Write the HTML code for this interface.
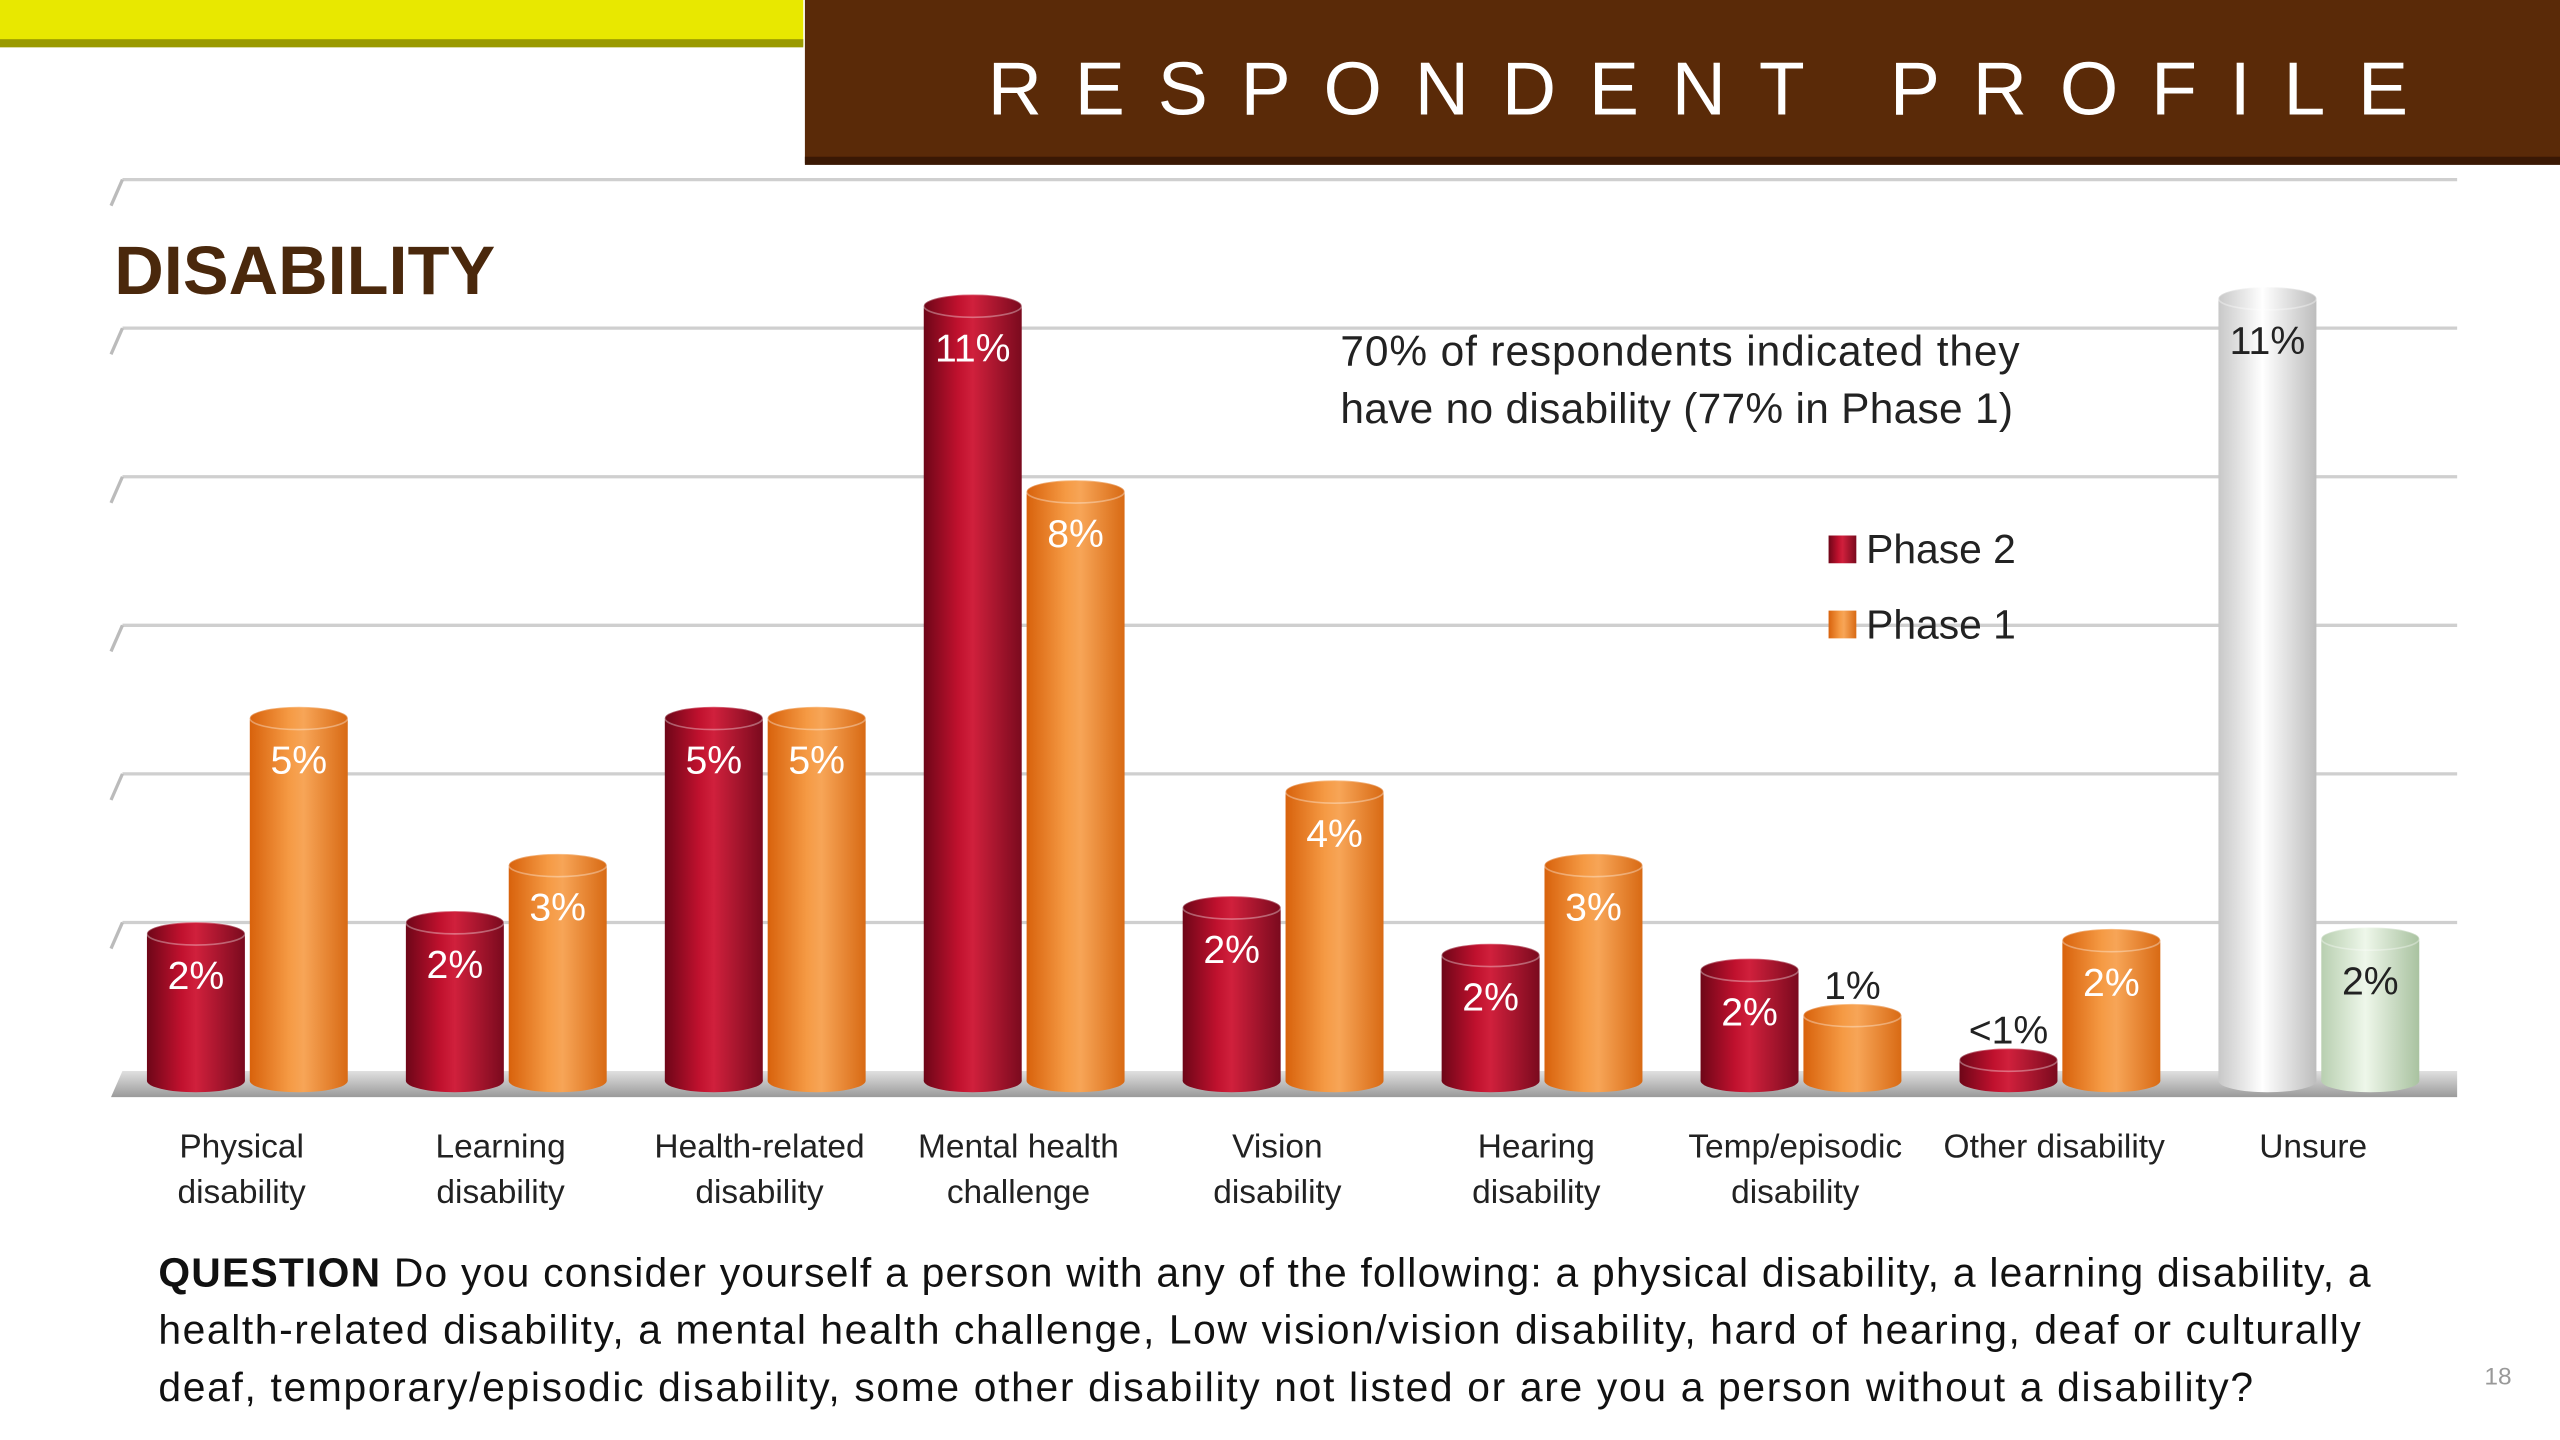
<!DOCTYPE html>
<html><head><meta charset="utf-8"><style>
html,body{margin:0;padding:0;background:#fff;}
svg{display:block;}
text{font-family:"Liberation Sans",sans-serif;}
</style></head><body>
<svg id="chart" width="2560" height="1440" viewBox="0 0 1568 882" xmlns="http://www.w3.org/2000/svg">
<defs>
<linearGradient id="gRed" x1="0" x2="1" y1="0" y2="0"><stop offset="0" stop-color="#6e0618"/><stop offset="0.35" stop-color="#c0112e"/><stop offset="0.5" stop-color="#d0203c"/><stop offset="1" stop-color="#7a0a1e"/></linearGradient>
<linearGradient id="gOr" x1="0" x2="1" y1="0" y2="0"><stop offset="0" stop-color="#d8620c"/><stop offset="0.4" stop-color="#f59a44"/><stop offset="0.55" stop-color="#f7a557"/><stop offset="1" stop-color="#d86a14"/></linearGradient>
<linearGradient id="gWh" x1="0" x2="1" y1="0" y2="0"><stop offset="0" stop-color="#c8c8c8"/><stop offset="0.45" stop-color="#ffffff"/><stop offset="1" stop-color="#bdbdbd"/></linearGradient>
<linearGradient id="gGr" x1="0" x2="1" y1="0" y2="0"><stop offset="0" stop-color="#b8cfb0"/><stop offset="0.45" stop-color="#eef7ea"/><stop offset="1" stop-color="#a9c2a0"/></linearGradient>
<linearGradient id="gFloor" x1="0" x2="0" y1="0" y2="1"><stop offset="0" stop-color="#e0e0e0"/><stop offset="1" stop-color="#9a9a9a"/></linearGradient>
</defs>
<rect x="0" y="0" width="492" height="28" fill="#e8e800"/>
<rect x="0" y="24" width="492" height="5" fill="#9a9a00"/>
<rect x="493" y="0" width="1075" height="100" fill="#5a2a08"/>
<rect x="493" y="96" width="1075" height="5" fill="#3a1804"/>
<text x="605" y="70" textLength="870" lengthAdjust="spacing" fill="#fff" font-size="46">RESPONDENT PROFILE</text>
<text x="70" y="180" fill="#4a280c" font-size="42" font-weight="bold">DISABILITY</text>
<g id="grid"></g>
<polygon points="68,672 1505,672 1505,656 75,656" fill="url(#gFloor)"/>
<g id="bars"></g>
<g id="cats"></g>
<text font-size="26" fill="#222"><tspan x="821" y="224" textLength="416">70% of respondents indicated they</tspan><tspan x="821" y="259" textLength="412">have no disability (77% in Phase 1)</tspan></text>
<g>
<rect x="1120" y="328" width="17" height="17" fill="url(#gRed)"/>
<text x="1143" y="345" font-size="25" fill="#222">Phase 2</text>
<rect x="1120" y="374" width="17" height="17" fill="url(#gOr)"/>
<text x="1143" y="391" font-size="25" fill="#222">Phase 1</text>
</g>
<text font-size="25" fill="#111"><tspan x="97" y="788" textLength="1355"><tspan font-weight="bold">QUESTION</tspan> Do you consider yourself a person with any of the following: a physical disability, a learning disability, a</tspan><tspan x="97" y="823" textLength="1349">health-related disability, a mental health challenge, Low vision/vision disability, hard of hearing, deaf or culturally</tspan><tspan x="97" y="858" textLength="1283">deaf, temporary/episodic disability, some other disability not listed or are you a person without a disability?</tspan></text>
<text x="1530" y="848" text-anchor="middle" font-size="15" fill="#999">18</text>
</svg>
<script>
const categories = [["Physical","disability"],["Learning","disability"],["Health-related","disability"],["Mental health","challenge"],["Vision","disability"],["Hearing","disability"],["Temp/episodic","disability"],["Other disability"],["Unsure"]];
const phase2 = [1.85, 2.0, 4.75, 10.3, 2.2, 1.56, 1.36, 0.15, 10.4];
const phase1 = [4.75, 2.77, 4.75, 7.8, 3.76, 2.77, 0.75, 1.76, 1.78];
const phase2Labels = ["2%","2%","5%","11%","2%","2%","2%","<1%","11%"];
const phase1Labels = ["5%","3%","5%","8%","4%","3%","1%","2%","2%"];
const gridTicks = [0,2,4,6,8,10,12];

const NS = "http://www.w3.org/2000/svg";
const base = 656, perUnit = 45.5, x0 = 148, step = 158.6, bw = 60;
function yScale(v){ return base - v*perUnit; }
function xCenter(i){ return x0 + i*step; }
function mk(tag, attrs, parent){ const e=document.createElementNS(NS,tag); for(const k in attrs) e.setAttribute(k,attrs[k]); parent.appendChild(e); return e; }

const grid = document.getElementById('grid');
gridTicks.forEach(function(t){
  if(t===0) return;
  const y = yScale(t);
  const l = mk('line',{x1:75,x2:1505,y1:y,y2:y,stroke:'#cfcfcf','stroke-width':2},grid);
  
  
  const s = mk('line',{x1:68,x2:75,y1:y+16,y2:y,stroke:'#bbb','stroke-width':2},grid);
  
  
});

const bars = document.getElementById('bars');
function cyl(x, v, fill, name, label, labelColor, outside){
  const g = mk('g',{},bars);
  
  
  const top = yScale(v), bot = base+6, rx = bw/2, ry = 7;
  mk('rect',{x:x,y:top,width:bw,height:bot-top,fill:fill},g);
  mk('ellipse',{cx:x+rx,cy:bot,rx:rx,ry:ry,fill:fill},g);
  mk('ellipse',{cx:x+rx,cy:top,rx:rx,ry:ry,fill:fill,stroke:'rgba(255,255,255,0.35)','stroke-width':1},g);
  const t = mk('text',{x:x+rx,y:outside?top-10:top+34,'text-anchor':'middle','font-size':24,fill:labelColor},g);
  t.textContent = label;
  
  
}
categories.forEach(function(c,i){
  const cx = xCenter(i);
  const unsure = i===categories.length-1;
  const tinyP2 = phase2[i] < 0.6;
  const tinyP1 = phase1[i] < 1;
  cyl(cx-58, phase2[i], unsure?'url(#gWh)':'url(#gRed)', 'bar-phase2-'+i, phase2Labels[i], unsure||tinyP2?'#222':'#fff', tinyP2);
  cyl(cx+5, phase1[i], unsure?'url(#gGr)':'url(#gOr)', 'bar-phase1-'+i, phase1Labels[i], unsure||tinyP1?'#222':'#fff', tinyP1);
  const t = mk('text',{x:cx,y:709,'text-anchor':'middle','font-size':20.5,fill:'#222'},document.getElementById('cats'));
  
  
  c.forEach(function(line,k){ const ts=mk('tspan',{x:cx,y:709+28*k},t); ts.textContent=line; });
});
</script>
</body></html>
